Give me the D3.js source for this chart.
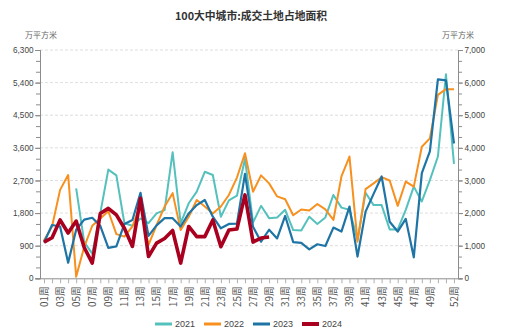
<!DOCTYPE html>
<html>
<head>
<meta charset="utf-8">
<script src="https://cdn.jsdelivr.net/npm/d3@7/dist/d3.min.js"></script>
<style>
  html, body { margin: 0; padding: 0; background: #fff; }
  svg text { font-family: "Noto Sans CJK SC", "Noto Sans", sans-serif; }
</style>
</head>
<body>
<svg id="chart" width="514" height="336"></svg>
<script>
const title = "100大中城市:成交土地占地面积";
const unitLabel = "万平方米";
const weeks = ["01周","02周","03周","04周","05周","06周","07周","08周","09周","10周",
  "11周","12周","13周","14周","15周","16周","17周","18周","19周","20周",
  "21周","22周","23周","24周","25周","26周","27周","28周","29周","30周",
  "31周","32周","33周","34周","35周","36周","37周","38周","39周","40周",
  "41周","42周","43周","44周","45周","46周","47周","48周","49周","50周",
  "51周","52周"];
const shownWeekLabels = ["01周","03周","05周","07周","09周","11周","13周","15周","17周","19周",
  "21周","23周","25周","27周","29周","31周","33周","35周","37周","39周","41周","43周","45周",
  "47周","49周","52周"];
const leftTicks = [0, 900, 1800, 2700, 3600, 4500, 5400, 6300];
const rightTicks = [0, 1000, 2000, 3000, 4000, 5000, 6000, 7000];
const seriesNames = ["2021", "2022", "2023", "2024"];

const s2021 = [null, null, null, null, 2480, 1000, 680, 1800, 3000, 2840,
  1520, 1450, 1650, 1520, 1790, 1880, 3480, 1520, 2070, 2390,
  2940, 2850, 1700, 2150, 2280, 3300, 1540, 2000, 1660, 1680,
  1890, 1330, 1320, 1700, 1500, 1680, 2300, 1950, 1890, 1060,
  2360, 2020, 2020, 1350, 1350, 1890, 2530, 2120, 2710, 3360,
  5630, 3160];
const s2022 = [1050, 1430, 2440, 2850, 40, 870, 1450, 1650, 1850, 1220,
  1150, 1430, 2050, 920, 1470, 1980, 2350, 1330, 1700, 2160,
  1980, 1790, 1980, 2300, 2780, 3450, 2390, 2840, 2620, 2260,
  2180, 1740, 1900, 1870, 2050, 1900, 1610, 2810, 3360, 1010,
  2460, 2620, 2790, 2700, 2000, 2670, 2530, 3630, 3860, 5060,
  5220, 5220];
const s2023 = [990, 1470, 1430, 430, 1340, 1620, 1670, 1450, 840, 880,
  1500, 1610, 2360, 1170, 1460, 1660, 1660, 1430, 1790, 2020,
  2160, 1700, 1380, 1500, 1510, 2880, 1420, 1010, 1340, 1100,
  1720, 1000, 980, 800, 940, 890, 1400, 1290, 1980, 600,
  1840, 2330, 2810, 1560, 1290, 1640, 580, 2900, 3500, 5490,
  5460, 3720];
const s2024 = [1000, 1120, 1610, 1250, 1580, 850, 420, 1790, 1930, 1750,
  1380, 880, 2210, 600, 970, 1100, 1320, 420, 1430, 1150,
  1150, 1610, 870, 1334, 1360, 2300, 1000, 1110, 1140];

const colors = ["#55c1bd", "#f7901e", "#1f74a6", "#a8001e"];
const widths = [2, 2, 2.2, 3.6];

const svg = d3.select("#chart");
const plotL = 40, plotR = 458, plotT = 50, plotB = 278.3;

const x = d3.scalePoint().domain(weeks).range([plotL, plotR]).padding(0.5);
const y = d3.scaleLinear().domain([0, 6300]).range([plotB, plotT]);
const yR = d3.scaleLinear().domain([0, 7000]).range([plotB, plotT]);

// title
svg.append("text").attr("x", 251).attr("y", 20).attr("text-anchor", "middle")
  .attr("font-size", 10.8).attr("font-weight", "bold").attr("fill", "#333").text(title);

// units
svg.append("text").attr("x", 41).attr("y", 38).attr("text-anchor", "middle")
  .attr("font-size", 8).attr("fill", "#666").text(unitLabel);
svg.append("text").attr("x", 458).attr("y", 38).attr("text-anchor", "middle")
  .attr("font-size", 8).attr("fill", "#666").text(unitLabel);

// grid
svg.append("g").selectAll("line").data(leftTicks.filter(d => d > 0)).join("line")
  .attr("x1", plotL).attr("x2", plotR)
  .attr("y1", d => y(d)).attr("y2", d => y(d))
  .attr("stroke", "#d6d6d6").attr("stroke-width", 0.8).attr("stroke-dasharray", "3,2");

const axisColor = "#8c8c8c";
const minorLeft = d3.range(0, 6301, 300);
const minorRight = d3.range(0, 7001, 7000 / 21);

// left axis
const gL = svg.append("g").attr("transform", `translate(${plotL},0)`)
  .call(d3.axisLeft(y).tickValues(minorLeft).tickSize(4).tickFormat(""));
gL.append("g").call(d3.axisLeft(y).tickValues(leftTicks).tickSize(5).tickPadding(1.5).tickFormat(d3.format(",")));
gL.selectAll("path").attr("stroke", axisColor);
gL.selectAll("line").attr("stroke", axisColor);
gL.selectAll("text").attr("fill", "#444").attr("font-size", 8.2)
  .style("font-family", "'Liberation Sans', Arial, sans-serif");

// right axis
const gR = svg.append("g").attr("transform", `translate(${plotR},0)`)
  .call(d3.axisRight(yR).tickValues(minorRight).tickSize(4).tickFormat(""));
gR.append("g").call(d3.axisRight(yR).tickValues(rightTicks).tickSize(5).tickPadding(1.5).tickFormat(d3.format(",")));
gR.selectAll("path").attr("stroke", axisColor);
gR.selectAll("line").attr("stroke", axisColor);
gR.selectAll("text").attr("fill", "#444").attr("font-size", 8.2)
  .style("font-family", "'Liberation Sans', Arial, sans-serif");

// bottom axis
const gB = svg.append("g").attr("transform", `translate(0,${plotB})`)
  .call(d3.axisBottom(x).tickSize(5).tickSizeOuter(0)
    .tickFormat(d => shownWeekLabels.includes(d) ? d : ""));
gB.select("path.domain").attr("stroke", axisColor).attr("d", `M${plotL},0.5H${plotR}`);
gB.selectAll("line").attr("stroke", "#b0b0b0");
gB.selectAll("text")
  .attr("transform", "rotate(-90)")
  .attr("text-anchor", "end")
  .attr("x", -8).attr("y", 0).attr("dy", "0.35em")
  .attr("fill", "#555").attr("font-size", 9.8);

// lines
const allSeries = [s2021, s2022, s2023, s2024];
const line = d3.line()
  .defined(d => d.v !== null)
  .x(d => x(d.w)).y(d => y(d.v));
allSeries.forEach((s, i) => {
  const pts = s.map((v, j) => ({ w: weeks[j], v: v }));
  svg.append("path").datum(pts)
    .attr("fill", "none")
    .attr("stroke", colors[i])
    .attr("stroke-width", widths[i])
    .attr("stroke-linejoin", "round")
    .attr("d", line);
});

// legend
const legendX = [155, 204, 253, 302];
const lg = svg.append("g");
seriesNames.forEach((n, i) => {
  lg.append("line").attr("x1", legendX[i]).attr("x2", legendX[i] + 17)
    .attr("y1", 324).attr("y2", 324)
    .attr("stroke", colors[i]).attr("stroke-width", i === 3 ? 4 : 3);
  lg.append("text").attr("x", legendX[i] + 20).attr("y", 327.3)
    .attr("font-size", 9).attr("fill", "#444")
    .style("font-family", "'Liberation Sans', Arial, sans-serif").text(n);
});
</script>
</body>
</html>
